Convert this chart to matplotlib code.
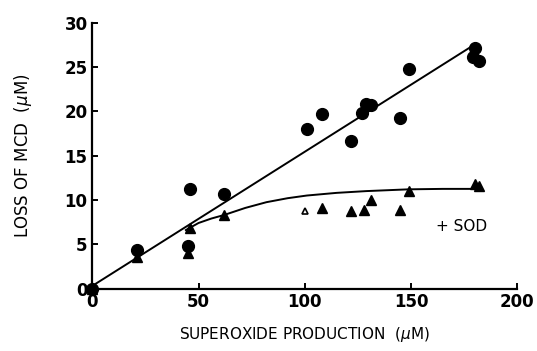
import matplotlib
matplotlib.use("Agg")
import matplotlib.pyplot as plt

# control (circles)
ctrl_x = [0, 21, 45, 46, 62, 101, 108, 122, 127, 129, 131, 145, 149, 180, 179, 182]
ctrl_y = [0, 4.3, 4.8, 11.2, 10.7, 18.0, 19.7, 16.7, 19.8, 20.8, 20.7, 19.2, 24.8, 27.2, 26.1, 25.7]

# + SOD (triangles)
sod_x = [0, 21, 45, 46, 62, 108, 122, 128, 131, 145, 149, 180, 182]
sod_y = [0, 3.6, 4.0, 6.8, 8.3, 9.1, 8.8, 8.9, 10.0, 8.9, 11.0, 11.8, 11.6]
sod_open_x = [100]
sod_open_y = [8.7]

# fitted lines
fit_x = [0, 179]
fit_y = [0.3, 27.4]
curve_x = [44, 50, 56, 62, 72, 82, 92, 101, 115, 129, 149, 165, 182]
curve_y = [6.6, 7.4, 7.9, 8.3, 9.1, 9.75, 10.2, 10.5, 10.8, 11.0, 11.2, 11.25, 11.25]

fig = plt.figure(figsize=(5.37, 3.51), dpi=100)
ax = fig.add_axes([0.172, 0.178, 0.791, 0.757])

ax.plot(fit_x, fit_y, color="black", lw=1.4)
ax.plot(curve_x, curve_y, color="black", lw=1.4)
ax.plot(ctrl_x, ctrl_y, "o", color="black", ms=8.5, clip_on=False)
ax.plot(sod_x, sod_y, "^", color="black", ms=7, clip_on=False)
ax.plot(sod_open_x, sod_open_y, "^", color="black", mfc="white", ms=5, mew=1.2)

ax.text(174, 7.0, "+ SOD", ha="center", va="center", fontsize=11)

ax.set_xlim(0, 200)
ax.set_ylim(0, 30)
ax.set_xticks([0, 50, 100, 150, 200])
ax.set_yticks([0, 5, 10, 15, 20, 25, 30])
for s in ["top", "right"]:
    ax.spines[s].set_visible(False)
for s in ["left", "bottom"]:
    ax.spines[s].set_linewidth(1.6)
ax.tick_params(direction="in", length=4, width=1.4, labelsize=12)
for lab in ax.get_xticklabels() + ax.get_yticklabels():
    lab.set_fontweight("bold")

ax.set_xlabel("SUPEROXIDE PRODUCTION  ($\\mu$M)", fontsize=11, labelpad=10)
ax.set_ylabel("LOSS OF MCD  ($\\mu$M)", fontsize=12, labelpad=22)

fig.savefig("out.png", dpi=100)
